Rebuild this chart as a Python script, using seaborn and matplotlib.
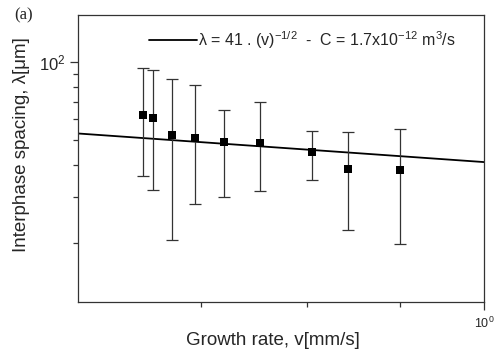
import numpy as np
import pandas as pd
import seaborn as sns
import matplotlib
matplotlib.use("Agg")
import matplotlib.pyplot as plt
from matplotlib.ticker import NullFormatter

# data
growth_rate = [0.651, 0.659, 0.675, 0.695, 0.721, 0.754, 0.805, 0.843, 0.900]
spacing = [62.4, 60.9, 52.3, 50.7, 49.2, 48.4, 44.8, 38.7, 38.3]
err_top = [94.6, 93.1, 86.0, 81.7, 65.1, 69.8, 54.0, 53.8, 55.0]
err_bottom = [36.2, 32.1, 20.4, 28.2, 30.1, 31.8, 35.0, 22.4, 19.7]

# fitted line end points (straight on log-log)
fit_v = [0.6, 1.0]
fit_lambda = [52.9, 41.0]

sns.set_theme(style="ticks")
plt.rcParams["font.family"] = ["Liberation Sans", "DejaVu Sans"]
plt.rcParams["mathtext.fontset"] = "custom"
plt.rcParams["mathtext.rm"] = "Liberation Sans"
plt.rcParams["mathtext.it"] = "Liberation Sans:italic"

df = pd.DataFrame({"v": growth_rate, "lam": spacing})
fit = pd.DataFrame({"v": fit_v, "lam": fit_lambda})

fig = plt.figure(figsize=(4.94, 3.49), dpi=100)
ax = fig.add_axes([0.158, 0.135, 0.822, 0.822])

lbl = "λ = 41 . (v)$^{-1/2}$  -  C = 1.7x10$^{-12}$ m$^{3}$/s"
sns.lineplot(data=fit, x="v", y="lam", color="black", linewidth=1.3, ax=ax, label=lbl)

lo = np.array(spacing) - np.array(err_bottom)
hi = np.array(err_top) - np.array(spacing)
ax.errorbar(growth_rate, spacing, yerr=[lo, hi], fmt="none", ecolor="#333333",
            elinewidth=0.9, capsize=4.5, capthick=0.9)
sns.scatterplot(data=df, x="v", y="lam", marker="s", color="black", s=26,
                edgecolor="black", linewidth=0, ax=ax, zorder=3)

ax.set_xscale("log")
ax.set_yscale("log")
ax.set_xlim(0.6, 1.0)
ax.set_ylim(11.8, 152)

ax.set_xticks([1.0])
ax.set_xticklabels(["$10^{0}$"])
ax.set_xticks([0.7, 0.8, 0.9], minor=True)
ax.xaxis.set_minor_formatter(NullFormatter())
ax.set_yticks([100])
ax.set_yticklabels(["$10^{2}$"])
ax.set_yticks([20, 30, 40, 50, 60, 70, 80, 90], minor=True)
ax.yaxis.set_minor_formatter(NullFormatter())

ax.tick_params(axis="both", which="major", length=6, width=0.9, color="#333333")
ax.tick_params(axis="both", which="minor", length=3.5, width=0.9, color="#333333")
ax.tick_params(axis="x", which="major", labelsize=9, pad=4)
ax.tick_params(axis="y", which="major", labelsize=12, pad=3)

for s in ax.spines.values():
    s.set_visible(True)
    s.set_linewidth(0.9)
    s.set_color("#333333")

ax.set_xlabel("Growth rate, v[mm/s]", fontsize=13.5)
ax.xaxis.set_label_coords(0.48, -0.135)
ax.xaxis.label.set_va("center")
ax.set_ylabel("Interphase spacing, λ[μm]", fontsize=13.5)
ax.yaxis.set_label_coords(-0.118, 0.55)

leg = ax.legend(loc="upper right", frameon=False, fontsize=11.5, handlelength=2.95,
                handletextpad=0.1, bbox_to_anchor=(0.958, 0.99),
                borderaxespad=0.3)

fig.text(0.028, 0.945, "(a)", family=["Liberation Serif", "DejaVu Serif"], fontsize=12)

fig.savefig("out.png", dpi=100)
